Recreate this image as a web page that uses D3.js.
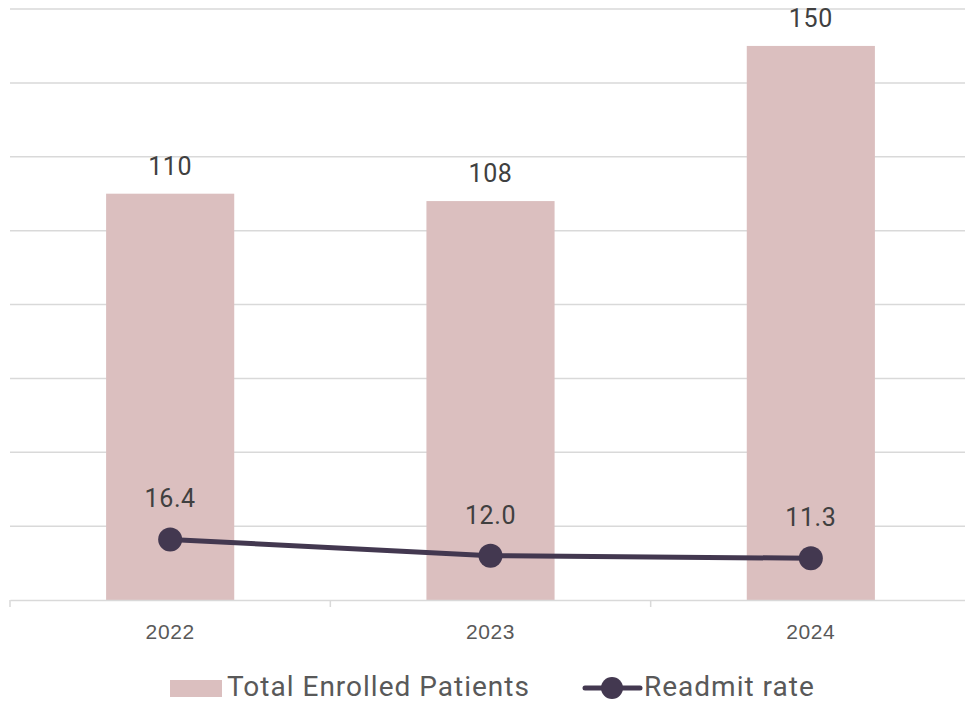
<!DOCTYPE html>
<html>
<head>
<meta charset="utf-8">
<script src="https://cdn.jsdelivr.net/npm/d3@7"></script>
<style>
  body { margin: 0; background: #fff; }
  svg { font-family: Roboto, "Open Sans", sans-serif; }
</style>
</head>
<body>
<svg id="chart"></svg>
<script>
const years = ["2022", "2023", "2024"];
const enrolled = [110, 108, 150];
const readmit = [16.4, 12.0, 11.3];
const yTicks = [0, 20, 40, 60, 80, 100, 120, 140, 160];

const width = 965, height = 704;
const margin = { top: 9, right: -6, bottom: 104, left: 10 };
const innerW = width - margin.left - margin.right;
const innerH = height - margin.top - margin.bottom;

const svg = d3.select("#chart").attr("width", width).attr("height", height);
const g = svg.append("g").attr("transform", `translate(${margin.left},${margin.top})`);

const x = d3.scaleBand().domain(years).range([0, innerW]).paddingInner(0.6).paddingOuter(0.3);
const xb = d3.scaleBand().domain(years).range([0, innerW]);
const y = d3.scaleLinear().domain([0, 160]).range([innerH, 0]);

// gridlines
g.append("g").selectAll("line")
  .data(yTicks.slice(1))
  .join("line")
  .attr("x1", 0).attr("x2", innerW)
  .attr("y1", d => y(d)).attr("y2", d => y(d))
  .attr("stroke", "#d9d9d9").attr("stroke-width", 1.5);

// bars
g.append("g").selectAll("rect")
  .data(years)
  .join("rect")
  .attr("x", d => x(d))
  .attr("y", (d, i) => y(enrolled[i]))
  .attr("width", x.bandwidth())
  .attr("height", (d, i) => innerH - y(enrolled[i]))
  .attr("fill", "#dbbfbf");

// x axis
const xAxis = g.append("g").attr("transform", `translate(0,${innerH})`)
  .call(d3.axisBottom(xb).tickSize(0).tickPadding(24));
xAxis.select(".domain").attr("stroke", "#d9d9d9").attr("stroke-width", 1.5);
xAxis.selectAll("text").attr("font-size", 21).attr("letter-spacing", 0.6).attr("fill", "#595959");
g.append("g").selectAll("line")
  .data(years.concat(["end"]))
  .join("line")
  .attr("x1", (d, i) => i * xb.step()).attr("x2", (d, i) => i * xb.step())
  .attr("y1", innerH).attr("y2", innerH + 7)
  .attr("stroke", "#d9d9d9").attr("stroke-width", 1.5);

// bar labels
g.append("g").selectAll("text")
  .data(years)
  .join("text")
  .attr("x", d => x(d) + x.bandwidth() / 2)
  .attr("y", (d, i) => y(enrolled[i]) - 19)
  .attr("text-anchor", "middle")
  .attr("font-size", 25)
  .attr("letter-spacing", 0.6)
  .attr("fill", "#404040")
  .text((d, i) => enrolled[i]);

// readmit line
const cx = d => xb(d) + xb.bandwidth() / 2;
const line = d3.line().x(d => cx(d[0])).y(d => y(d[1]));
g.append("path")
  .datum(years.map((d, i) => [d, readmit[i]]))
  .attr("d", line)
  .attr("fill", "none")
  .attr("stroke", "#433850")
  .attr("stroke-width", 5);

g.append("g").selectAll("circle")
  .data(years)
  .join("circle")
  .attr("cx", cx)
  .attr("cy", (d, i) => y(readmit[i]))
  .attr("r", 12)
  .attr("fill", "#433850");

g.append("g").selectAll("text")
  .data(years)
  .join("text")
  .attr("x", cx)
  .attr("y", (d, i) => y(readmit[i]) - 32)
  .attr("text-anchor", "middle")
  .attr("font-size", 25)
  .attr("letter-spacing", 0.6)
  .attr("fill", "#404040")
  .text((d, i) => readmit[i].toFixed(1));

// legend
const legend = svg.append("g");
legend.append("rect")
  .attr("x", 170).attr("y", 680).attr("width", 52).attr("height", 17)
  .attr("fill", "#dbbfbf");
legend.append("text")
  .attr("x", 227).attr("y", 696)
  .attr("font-size", 28).attr("letter-spacing", 1).attr("fill", "#595959")
  .text("Total Enrolled Patients");
legend.append("line")
  .attr("x1", 585).attr("x2", 640).attr("y1", 688).attr("y2", 688)
  .attr("stroke", "#433850").attr("stroke-width", 5).attr("stroke-linecap", "round");
legend.append("circle")
  .attr("cx", 612).attr("cy", 688).attr("r", 11)
  .attr("fill", "#433850");
legend.append("text")
  .attr("x", 644).attr("y", 696)
  .attr("font-size", 28).attr("letter-spacing", 1).attr("fill", "#595959")
  .text("Readmit rate");
</script>
</body>
</html>
